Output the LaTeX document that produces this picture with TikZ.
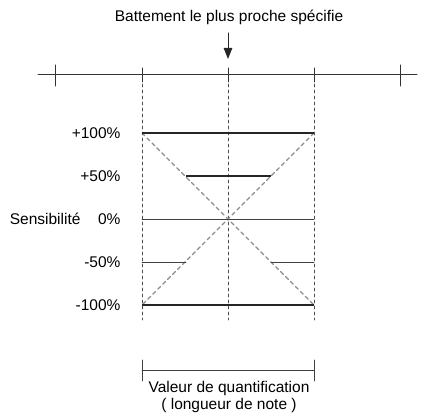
\documentclass[tikz,border=0pt]{standalone}
\usepackage{fontspec}
\setmainfont{Liberation Sans}
\usetikzlibrary{arrows.meta}
\begin{document}
\begin{tikzpicture}[x=1pt, y=-1pt, font=\fontsize{15.5}{17}\selectfont, line join=round, line cap=round, >={Triangle[length=11pt,width=8.5pt]},
  axis/.style={draw=black!80, line width=1pt},
  guide/.style={draw=black!70, dashed, dash pattern=on 3pt off 3pt, line width=0.9pt},
  cross/.style={draw=black!45, dash pattern=on 4pt off 3pt, line width=1.1pt},
  full/.style={draw=black!85, line width=2.4pt, line cap=butt},
  thin/.style={draw=black!75, line width=0.9pt}]
 \useasboundingbox (0,0) rectangle (421,417);
 % title and arrow
 \node (title) at (229,17) {Battement le plus proche spécifie};
 \draw [->, black!85, line width=1pt] (228,33)--(228,59);
 % time axis
 \draw [axis] (38,75)--(417,75);
 \foreach \x in {55,400}
 \draw [axis] (\x,65)--(\x,86);
 \foreach \x in {142,228,314}
 \draw [axis] (\x,68)--(\x,82);
 \foreach \x in {142,228,314}
 \draw [guide] (\x,84)--(\x,320);
 % cross
 \draw [cross] (142,133)--(314,305)
 (314,133)--(142,305);
 % levels
 \draw [full] (142,133)--(314,133);
 \draw [full] (186,176)--(271,176);
 \draw [thin] (142,219)--(314,219);
 \draw [thin] (142,262)--(186,262)
 (271,262)--(314,262);
 \draw [full] (142,305)--(314,305);
 \node[left] (p100) at (124,133) {+100\%};
 \node[left] (p50) at (124,176) {+50\%};
 \node[left] (p0) at (124,219) {0\%};
 \node[left] (sens) at (84,219) {Sensibilité};
 \node[left] (m50) at (124,262) {-50\%};
 \node[left] (m100) at (124,305) {-100\%};
 % quantize width
 \draw [thin] (142,360)--(142,381)
 (314,360)--(314,381)
 (142,370)--(314,370);
 \node (quant) at (229,388) {Valeur de quantification};
 \node (len) at (229,405) {( longueur de note )};
\end{tikzpicture}
\end{document}
